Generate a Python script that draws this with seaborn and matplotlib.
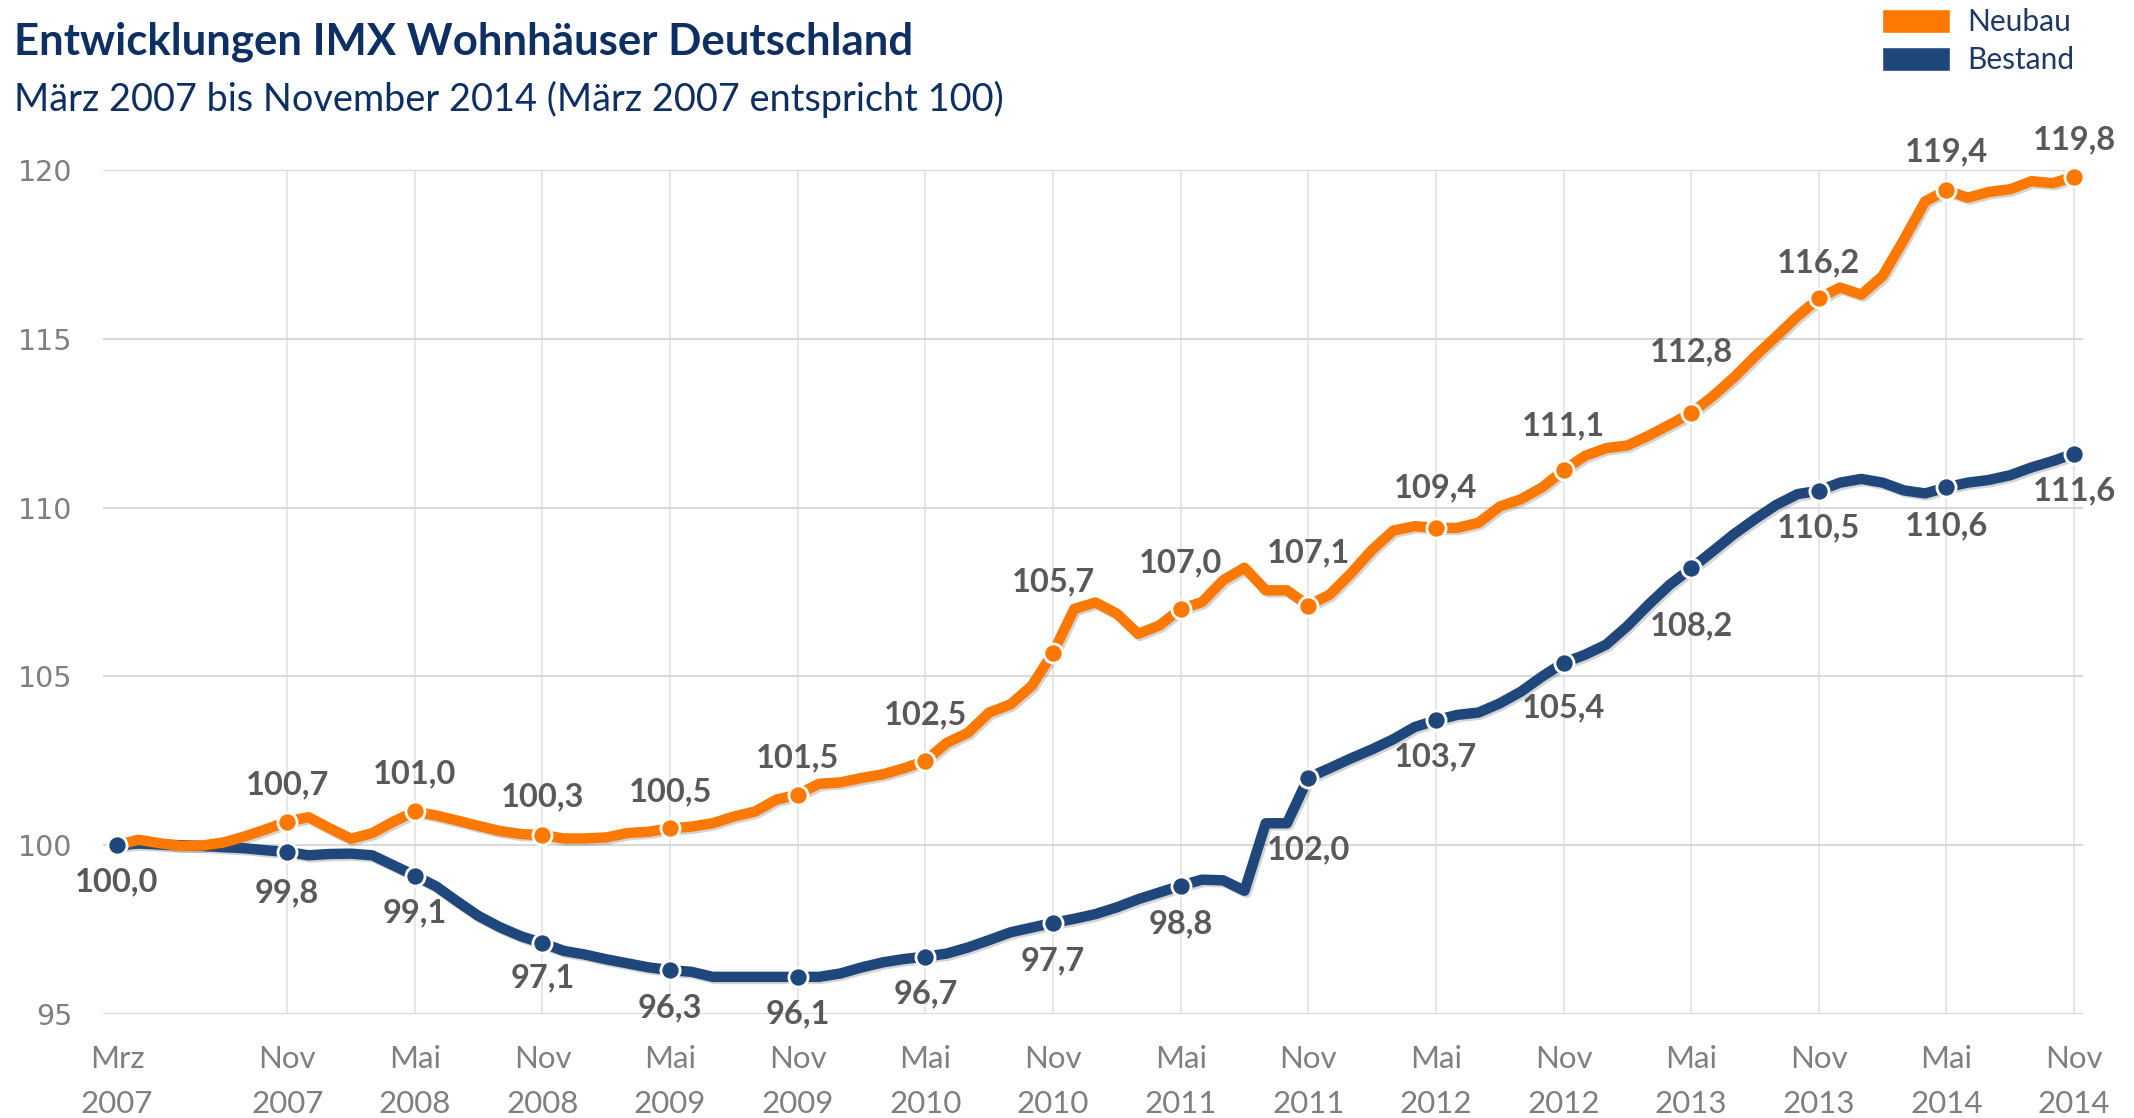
import pandas as pd
import numpy as np
import matplotlib
matplotlib.use('Agg')
import matplotlib.pyplot as plt
import matplotlib.patheffects as pe
from matplotlib.patches import Patch
import seaborn as sns

# monthly index values, Mrz 2007 .. Nov 2014 (93 months)
neubau = [100.0, 100.16, 100.06, 99.98, 99.99, 100.08, 100.26, 100.47, 100.7, 100.83,
          100.5, 100.19, 100.36, 100.7, 101.0, 100.88, 100.73, 100.57, 100.42, 100.33,
          100.3, 100.2, 100.2, 100.23, 100.36, 100.4, 100.5, 100.55, 100.65, 100.85,
          101.0, 101.35, 101.5, 101.82, 101.86, 101.99, 102.1, 102.28, 102.5, 103.03,
          103.33, 103.93, 104.17, 104.72, 105.7, 107.0, 107.19, 106.86, 106.26, 106.51,
          107.0, 107.2, 107.85, 108.22, 107.55, 107.55, 107.1, 107.42, 108.05, 108.75,
          109.32, 109.45, 109.4, 109.4, 109.55, 110.03, 110.25, 110.6, 111.1, 111.53,
          111.76, 111.84, 112.13, 112.46, 112.8, 113.29, 113.85, 114.48, 115.07, 115.67,
          116.2, 116.52, 116.31, 116.86, 117.94, 119.07, 119.4, 119.18, 119.35, 119.43,
          119.67, 119.61, 119.8]
bestand = [100.0, 100.05, 100.02, 100.0, 99.98, 99.94, 99.91, 99.85, 99.8, 99.7,
           99.74, 99.75, 99.7, 99.4, 99.1, 98.78, 98.33, 97.9, 97.57, 97.3,
           97.1, 96.87, 96.76, 96.62, 96.5, 96.38, 96.3, 96.25, 96.1, 96.1,
           96.1, 96.1, 96.1, 96.1, 96.2, 96.38, 96.53, 96.63, 96.7, 96.79,
           96.97, 97.19, 97.42, 97.56, 97.7, 97.82, 97.96, 98.16, 98.4, 98.6,
           98.8, 98.98, 98.96, 98.65, 100.65, 100.65, 102.0, 102.28, 102.57, 102.84,
           103.14, 103.5, 103.7, 103.86, 103.93, 104.2, 104.55, 105.0, 105.4, 105.64,
           105.94, 106.49, 107.13, 107.72, 108.2, 108.7, 109.21, 109.66, 110.08, 110.4,
           110.5, 110.74, 110.85, 110.74, 110.51, 110.42, 110.6, 110.74, 110.82, 110.96,
           111.19, 111.38, 111.6]

tick_months = [0, 8, 14, 20, 26, 32, 38, 44, 50, 56, 62, 68, 74, 80, 86, 92]
tick_labels = ['Mrz\n2007', 'Nov\n2007', 'Mai\n2008', 'Nov\n2008', 'Mai\n2009', 'Nov\n2009',
               'Mai\n2010', 'Nov\n2010', 'Mai\n2011', 'Nov\n2011', 'Mai\n2012', 'Nov\n2012',
               'Mai\n2013', 'Nov\n2013', 'Mai\n2014', 'Nov\n2014']

# labelled points
neubau_marks = [8, 14, 20, 26, 32, 38, 44, 50, 56, 62, 68, 74, 80, 86, 92]
neubau_labels = ['100,7', '101,0', '100,3', '100,5', '101,5', '102,5', '105,7', '107,0',
                 '107,1', '109,4', '111,1', '112,8', '116,2', '119,4', '119,8']
bestand_marks = [0, 8, 14, 20, 26, 32, 38, 44, 50, 56, 62, 68, 74, 80, 86, 92]
bestand_labels = ['100,0', '99,8', '99,1', '97,1', '96,3', '96,1', '96,7', '97,7', '98,8',
                  '102,0', '103,7', '105,4', '108,2', '110,5', '110,6', '111,6']

# label offsets in pixels (above for Neubau, below for Bestand)
neubau_off = [37, 38, 38, 37, 37, 46, 71, 46, 53, 40, 45, 61, 35, 38, 37]
bestand_off = [37, 41, 37, 35, 38, 37, 37, 38, 38, 72, 37, 45, 57, 37, 38, 37]

orange = '#FF7800'
navy = '#1F477B'
title_col = '#0D2F63'
lab_col = '#595959'
fnt = ['Lato', 'DejaVu Sans']

months = np.arange(len(neubau))
df = pd.DataFrame({'Monat': np.concatenate([months, months]),
                   'Index': neubau + bestand,
                   'Serie': ['Neubau'] * len(neubau) + ['Bestand'] * len(bestand)})

sns.set_theme(style='white')
plt.rcParams['font.family'] = fnt

fig = plt.figure(figsize=(21.34, 11.18), dpi=100)
ax = fig.add_axes([103 / 2134, 1 - 1014 / 1118, (2083 - 103) / 2134, (1014 - 170) / 1118])

shadow = [pe.SimpleLineShadow(offset=(1.5, -1.5), alpha=0.25, shadow_color='#555555'), pe.Normal()]
sns.lineplot(data=df, x='Monat', y='Index', hue='Serie', palette={'Neubau': orange, 'Bestand': navy},
             hue_order=['Bestand', 'Neubau'], linewidth=7.5, legend=False, ax=ax, clip_on=False)
for ln in ax.lines:
    ln.set_path_effects(shadow)
    ln.set_solid_joinstyle('round')
    ln.set_solid_capstyle('round')

nb = df[(df.Serie == 'Neubau') & df.Monat.isin(neubau_marks)]
bs = df[(df.Serie == 'Bestand') & df.Monat.isin(bestand_marks)]
sns.scatterplot(data=bs, x='Monat', y='Index', color=navy, s=190, edgecolor='white', linewidth=2,
                ax=ax, zorder=5, clip_on=False)
sns.scatterplot(data=nb, x='Monat', y='Index', color=orange, s=190, edgecolor='white', linewidth=2,
                ax=ax, zorder=5, clip_on=False)

for m, t, o in zip(neubau_marks, neubau_labels, neubau_off):
    ax.annotate(t, (m, neubau[m]), xytext=(0, o * 0.72), textcoords='offset points',
                ha='center', va='center', fontsize=23.5, fontweight='bold', color=lab_col)
for m, t, o in zip(bestand_marks, bestand_labels, bestand_off):
    ax.annotate(t, (m, bestand[m]), xytext=(0, -o * 0.72), textcoords='offset points',
                ha='center', va='center', fontsize=23.5, fontweight='bold', color=lab_col)

ax.set_xlim(-0.66, 92.42)
ax.set_ylim(95, 120)
ax.set_yticks([95, 100, 105, 110, 115, 120])
ax.set_yticklabels(['95', '100', '105', '110', '115', '120'], family='DejaVu Sans', fontsize=20.5, color='#7F7F7F')
ax.set_xticks(tick_months)
ax.set_xticklabels(tick_labels, fontsize=22.5, color='#7F7F7F', linespacing=1.75)
ax.set_xticks(months, minor=True)
ax.tick_params(axis='y', length=0, pad=22)
ax.tick_params(axis='x', which='major', length=0, pad=22)
ax.tick_params(axis='x', which='minor', length=4, color='#D9D9D9', direction='in')
ax.grid(axis='y', color='#D9D9D9', linewidth=1.5)
ax.vlines(tick_months[1:], 95, 120, color='#E3E3E3', linewidth=1.2, zorder=0)
for s in ax.spines.values():
    s.set_visible(False)
ax.set_xlabel('')
ax.set_ylabel('')

fig.text(14 / 2134, 1 - 54 / 1118, 'Entwicklungen IMX Wohnhäuser Deutschland', fontsize=31.5,
         fontweight='bold', color=title_col, va='baseline')
fig.text(14 / 2134, 1 - 111 / 1118, 'März 2007 bis November 2014 (März 2007 entspricht 100)',
         fontsize=27.3, color=title_col, va='baseline')

handles = [Patch(facecolor=orange), Patch(facecolor=navy)]
fig.legend(handles, ['Neubau', 'Bestand'], loc='upper right', bbox_to_anchor=(2074 / 2134, 1 - 8 / 1118),
           frameon=False, fontsize=21.5, handlelength=2.3, handleheight=0.85, handletextpad=0.55,
           labelspacing=0.35, borderpad=0, borderaxespad=0, labelcolor='#1F3864')

plt.savefig('out.png', dpi=100)
